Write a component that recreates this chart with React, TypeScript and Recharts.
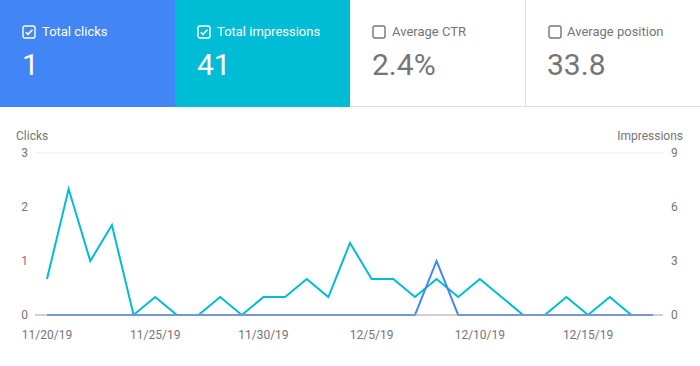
import { LineChart, Line, XAxis, YAxis, CartesianGrid } from 'recharts';

const dates = [
  '11/20/19', '11/21/19', '11/22/19', '11/23/19', '11/24/19', '11/25/19', '11/26/19', '11/27/19',
  '11/28/19', '11/29/19', '11/30/19', '12/1/19', '12/2/19', '12/3/19', '12/4/19', '12/5/19',
  '12/6/19', '12/7/19', '12/8/19', '12/9/19', '12/10/19', '12/11/19', '12/12/19', '12/13/19',
  '12/14/19', '12/15/19', '12/16/19', '12/17/19', '12/18/19',
];
const clicks = [0, 0, 0, 0, 0, 0, 0, 0, 0, 0, 0, 0, 0, 0, 0, 0, 0, 0, 1, 0, 0, 0, 0, 0, 0, 0, 0, 0, 0];
const impressions = [2, 7, 3, 5, 0, 1, 0, 0, 1, 0, 1, 1, 2, 1, 4, 2, 2, 1, 2, 1, 2, 1, 0, 0, 1, 0, 1, 0, 0];
const clickTicks = [0, 1, 2, 3];
const impressionTicks = [0, 3, 6, 9];

const metrics = [
  { label: 'Total clicks', value: '1', checked: true, bg: '#4285f4' },
  { label: 'Total impressions', value: '41', checked: true, bg: '#00bcd4' },
  { label: 'Average CTR', value: '2.4%', checked: false, bg: '#ffffff' },
  { label: 'Average position', value: '33.8', checked: false, bg: '#ffffff' },
];

const data = dates.map((date, i) => ({ date, clicks: clicks[i], impressions: impressions[i] }));

const BLUE = '#4285f4';
const CYAN = '#00bcd4';
const GRAY = '#757575';

function Checkbox({ checked, color }: { checked: boolean; color: string }) {
  return (
    <svg width={14} height={14} style={{ position: 'absolute', left: 22, top: 25 }}>
      <rect x={1} y={1} width={12} height={12} rx={2} fill="none" stroke={color} strokeWidth={1.4} />
      {checked && <path d="M3.8 7.2 L6 9.4 L10.4 4.8" fill="none" stroke={color} strokeWidth={1.6} />}
    </svg>
  );
}

function Tile({ m, index }: { m: (typeof metrics)[number]; index: number }) {
  const fg = m.checked ? '#ffffff' : GRAY;
  return (
    <div
      style={{
        position: 'absolute',
        left: index * 175,
        top: 0,
        width: 175,
        height: 107,
        background: m.bg,
        boxSizing: 'border-box',
        borderBottom: m.checked ? 'none' : '1px solid #e0e0e0',
        borderLeft: index === 3 ? '1px solid #e0e0e0' : 'none',
      }}
    >
      <Checkbox checked={m.checked} color={fg} />
      <div
        style={{
          position: 'absolute',
          left: index === 3 ? 41 : 42,
          top: 25,
          fontSize: 13,
          lineHeight: '13px',
          color: fg,
          whiteSpace: 'nowrap',
        }}
      >
        {m.label}
      </div>
      <div
        style={{
          position: 'absolute',
          left: index === 3 ? 21 : 22,
          top: 50,
          fontSize: 30,
          lineHeight: '30px',
          color: fg,
        }}
      >
        {m.value}
      </div>
    </div>
  );
}

export default function App() {
  const tick = { fill: GRAY, fontSize: 12 };
  return (
    <div
      style={{
        position: 'fixed',
        left: 0,
        top: 0,
        width: 700,
        height: 366,
        background: '#fff',
        fontFamily: 'Roboto, sans-serif',
        overflow: 'hidden',
      }}
    >
      {metrics.map((m, i) => (
        <Tile key={m.label} m={m} index={i} />
      ))}
      <div style={{ position: 'absolute', left: 16, top: 130, fontSize: 12, lineHeight: '12px', color: GRAY }}>
        Clicks
      </div>
      <div
        style={{
          position: 'absolute',
          right: 17,
          top: 130,
          fontSize: 12,
          lineHeight: '12px',
          color: GRAY,
        }}
      >
        Impressions
      </div>
      <div style={{ position: 'absolute', left: 0, top: 106 }}>
        <LineChart width={700} height={260} data={data} margin={{ top: 47, right: 0, bottom: 21, left: 0 }}>
          <CartesianGrid vertical={false} stroke="#ebebeb" />
          <XAxis
            dataKey="date"
            interval={4}
            padding={{ left: 12, right: 10 }}
            height={30}
            tickSize={0}
            tickMargin={15}
            tick={tick}
            axisLine={{ stroke: '#aaaaaa' }}
          />
          <YAxis
            yAxisId="left"
            width={35}
            domain={[0, 3]}
            ticks={clickTicks}
            axisLine={false}
            tickLine={false}
            tickSize={0}
            tickMargin={7}
            tick={tick}
          />
          <YAxis
            yAxisId="right"
            orientation="right"
            width={37}
            domain={[0, 9]}
            ticks={impressionTicks}
            axisLine={false}
            tickLine={false}
            tickSize={0}
            tickMargin={8}
            tick={tick}
          />
          <Line
            yAxisId="right"
            dataKey="impressions"
            type="linear"
            stroke={CYAN}
            strokeWidth={2}
            dot={false}
            isAnimationActive={false}
          />
          <Line
            yAxisId="left"
            dataKey="clicks"
            type="linear"
            stroke={BLUE}
            strokeWidth={2}
            dot={false}
            isAnimationActive={false}
          />
        </LineChart>
      </div>
    </div>
  );
}
